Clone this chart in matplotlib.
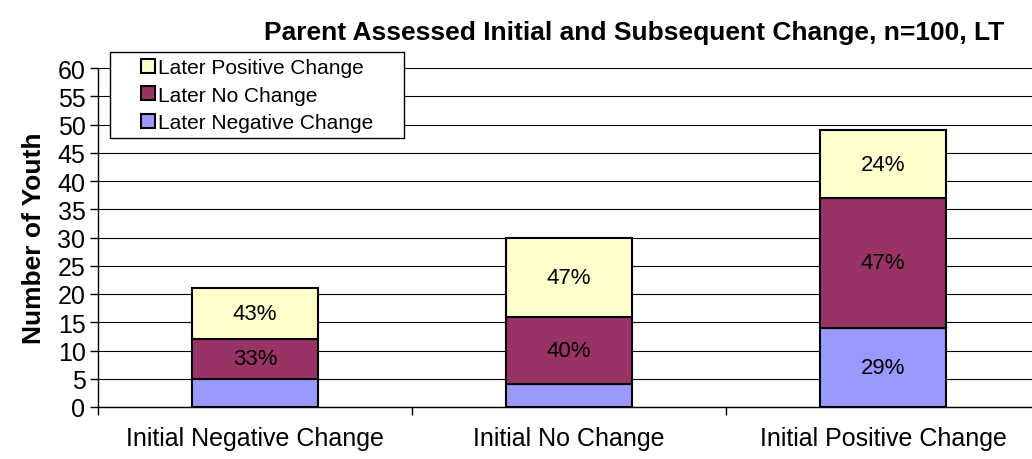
import numpy as np
from matplotlib import pyplot as plt
from matplotlib.lines import Line2D

plt.rcParams['font.family'] = ['Liberation Sans', 'DejaVu Sans']

# Data
categories = ['Initial Negative Change', 'Initial No Change', 'Initial Positive Change']
later_negative = [5, 4, 14]
later_no = [7, 12, 23]
later_positive = [9, 14, 12]
neg_labels = ['', '', '29%']
no_labels = ['33%', '40%', '47%']
pos_labels = ['43%', '47%', '24%']
yticks = list(range(0, 61, 5))

fig = plt.figure(figsize=(10.32, 4.6), dpi=100)
ax = fig.add_axes([98 / 1032, 1 - 408 / 460, 942 / 1032, 339 / 460])

x = np.arange(len(categories))
w = 0.4
b1 = ax.bar(x, later_negative, w, color='#9999FF', edgecolor='black', lw=1.5,
            label='Later Negative Change', zorder=3)
bottom2 = np.array(later_negative)
b2 = ax.bar(x, later_no, w, bottom=bottom2, color='#993366', edgecolor='black', lw=1.5,
            label='Later No Change', zorder=3)
bottom3 = bottom2 + np.array(later_no)
b3 = ax.bar(x, later_positive, w, bottom=bottom3, color='#FFFFCC', edgecolor='black', lw=1.5,
            label='Later Positive Change', zorder=3)

for bars, labels in [(b1, neg_labels), (b2, no_labels), (b3, pos_labels)]:
    for rect, lab in zip(bars, labels):
        if lab:
            ax.text(rect.get_x() + rect.get_width() / 2, rect.get_y() + rect.get_height() / 2,
                    lab, ha='center', va='center', fontsize=16, zorder=4)

ax.set_xlim(-0.5, 2.5)
ax.set_ylim(0, 60)
ax.set_yticks(yticks)
ax.tick_params(axis='y', labelsize=18, length=6, width=1, direction='out', pad=3)
ax.set_xticks(x)
ax.set_xticklabels(categories, fontsize=18)
ax.tick_params(axis='x', length=0, pad=14)
ax.set_xticks([-0.5, 0.5, 1.5, 2.5], minor=True)
ax.tick_params(axis='x', which='minor', length=6, width=1, direction='out')
ax.yaxis.grid(True, color='black', lw=0.8, zorder=0)
for s in ['top', 'right']:
    ax.spines[s].set_visible(False)
ax.spines['left'].set_linewidth(1)
ax.spines['bottom'].set_linewidth(1)

ax.set_ylabel('Number of Youth', fontsize=19, fontweight='bold', labelpad=8)
fig.text(634 / 1032, 1 - 33 / 460, 'Parent Assessed Initial and Subsequent Change, n=100, LT',
         ha='center', va='center', fontsize=19, fontweight='bold')

handles = [Line2D([], [], ls='none', marker='s', markersize=10, markerfacecolor=b.patches[0].get_facecolor(),
                  markeredgecolor='black', markeredgewidth=1.5) for b in [b3, b2, b1]]
labels = [b.get_label() for b in [b3, b2, b1]]
top = 1 + 16 / 339
leg = ax.legend(handles, labels, loc='upper left', mode='expand',
                bbox_to_anchor=(12 / 942, top - 0.01, 294 / 942, 0.01), fontsize=15, frameon=True,
                fancybox=False, edgecolor='black', framealpha=1, borderpad=0.3,
                handlelength=3.0, handletextpad=-1.0, labelspacing=0.4,
                borderaxespad=0)
leg.get_frame().set_linewidth(1)
leg.set_zorder(5)

fig.savefig('out.png', dpi=100)
